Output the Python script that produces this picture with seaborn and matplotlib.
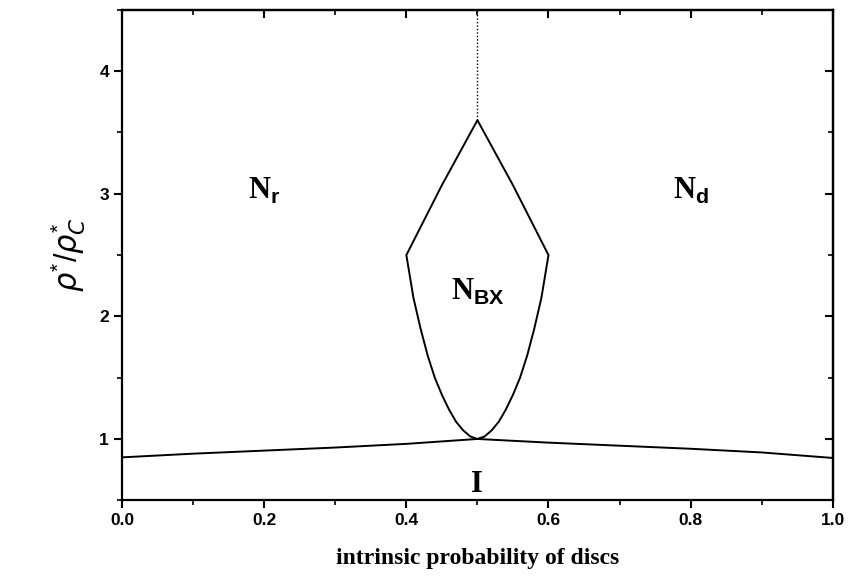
import numpy as np
import pandas as pd
import matplotlib
matplotlib.use('Agg')
import matplotlib.pyplot as plt
import seaborn as sns
from matplotlib.ticker import MultipleLocator, FormatStrFormatter

# isotropic - nematic boundary
iso_x = [0.0, 0.1, 0.2, 0.3, 0.4, 0.5, 0.6, 0.7, 0.8, 0.9, 1.0]
iso_y = [0.85, 0.88, 0.905, 0.93, 0.96, 1.0, 0.97, 0.945, 0.92, 0.89, 0.845]

# biaxial pocket (closed curve)
bx_x = [0.5, 0.49, 0.48, 0.47, 0.46, 0.45, 0.44, 0.43, 0.42, 0.41, 0.40,
        0.45, 0.5, 0.55, 0.60,
        0.59, 0.58, 0.57, 0.56, 0.55, 0.54, 0.53, 0.52, 0.51, 0.5]
bx_y = [1.0, 1.02, 1.07, 1.14, 1.24, 1.36, 1.5, 1.68, 1.9, 2.15, 2.5,
        3.07, 3.6, 3.07, 2.5,
        2.15, 1.9, 1.68, 1.5, 1.36, 1.24, 1.14, 1.07, 1.02, 1.0]

# dotted Nr/Nd boundary above the pocket
dot_x = [0.5, 0.5]
dot_y = [3.6, 4.5]

labels = [r'N$_{\mathbf{r}}$', r'N$_{\mathbf{d}}$', r'N$_{\mathbf{BX}}$', 'I']
label_x = [0.2, 0.8, 0.5, 0.5]
label_y = [3.02, 3.02, 2.2, 0.63]

sns.set_theme(style='ticks')
plt.rcParams['font.family'] = ['Liberation Sans', 'DejaVu Sans']
plt.rcParams['mathtext.fontset'] = 'custom'
plt.rcParams['mathtext.rm'] = 'Liberation Sans'
plt.rcParams['mathtext.bf'] = 'Liberation Sans:bold'
plt.rcParams['mathtext.it'] = 'DejaVu Sans:italic'
for k in ['text.color', 'axes.labelcolor', 'xtick.color', 'ytick.color', 'axes.edgecolor']:
    plt.rcParams[k] = 'black'

fig = plt.figure(figsize=(8.48, 5.79), dpi=100)
ax = fig.add_axes([0.144, 0.136, 0.838, 0.847])

sns.lineplot(x=iso_x, y=iso_y, ax=ax, color='black', lw=1.4, sort=False,
             estimator=None, errorbar=None)
sns.lineplot(x=bx_x, y=bx_y, ax=ax, color='black', lw=1.4, sort=False,
             estimator=None, errorbar=None)
ax.plot(dot_x, dot_y, color='black', lw=1.0, ls=(0, (1, 1.5)))

for t, lx, ly in zip(labels, label_x, label_y):
    ax.text(lx, ly, t, ha='center', va='center', fontsize=22,
            family='Liberation Serif', fontweight='bold', color='black')

ax.set_xlim(0, 1)
ax.set_ylim(0.5, 4.5)
ax.xaxis.set_major_locator(MultipleLocator(0.2))
ax.xaxis.set_minor_locator(MultipleLocator(0.1))
ax.yaxis.set_major_locator(MultipleLocator(1))
ax.yaxis.set_minor_locator(MultipleLocator(0.5))
ax.xaxis.set_major_formatter(FormatStrFormatter('%.1f'))
ax.tick_params(which='major', direction='out', length=6, width=1.5, labelsize=12.5)
ax.tick_params(which='minor', direction='out', length=3.5, width=1.2)
for lab in ax.get_xticklabels() + ax.get_yticklabels():
    lab.set_fontweight('bold')

# inward ticks on top and right
top = ax.secondary_xaxis('top')
top.xaxis.set_major_locator(MultipleLocator(0.2))
top.xaxis.set_minor_locator(MultipleLocator(0.1))
top.tick_params(which='major', direction='in', length=6, width=1.5, labelbottom=False, labeltop=False)
top.tick_params(which='minor', direction='in', length=3.5, width=1.2)
right = ax.secondary_yaxis('right')
right.yaxis.set_major_locator(MultipleLocator(1))
right.yaxis.set_minor_locator(MultipleLocator(0.5))
right.tick_params(which='major', direction='in', length=6, width=1.5, labelright=False)
right.tick_params(which='minor', direction='in', length=3.5, width=1.2)

for sp in list(ax.spines.values()) + [top.spines['top'], right.spines['right']]:
    sp.set_linewidth(1.6)
    sp.set_color('black')

ax.set_xlabel('intrinsic probability of discs', family='Liberation Serif',
              fontweight='bold', fontsize=17, labelpad=14)
ax.set_ylabel(r'$\rho^{*}/\rho_{C}^{*}$', fontsize=22, labelpad=8)

fig.savefig('out.png', dpi=100)
